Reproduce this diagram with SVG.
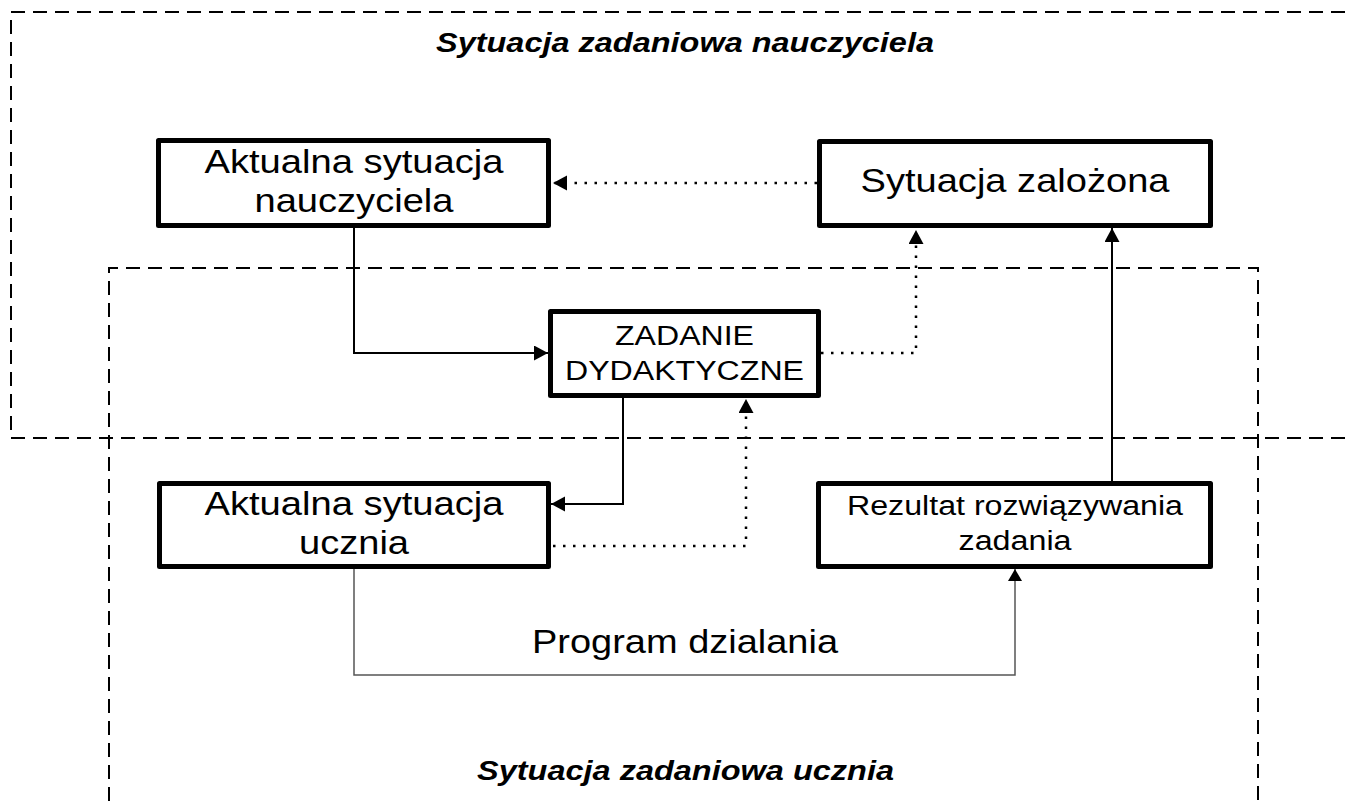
<svg xmlns="http://www.w3.org/2000/svg" width="1345" height="801" viewBox="0 0 1345 801">
<style>
.bg{fill:#ffffff}
.frame{fill:none;stroke:#000;stroke-width:2;stroke-dasharray:14 8}
.box{fill:#fff;stroke:#000;stroke-width:5;stroke-linejoin:round}
.solid{fill:none;stroke:#000;stroke-width:2}
.dot{fill:none;stroke:#000;stroke-width:2.5;stroke-dasharray:2.5 7.5}
.thin{fill:none;stroke:#555;stroke-width:1.5}
.t{font-family:"Liberation Sans",Arial,sans-serif;fill:#000;text-anchor:middle}
.big{font-size:33px}
.mid{font-size:27px}
.title{font-family:"Liberation Sans",Arial,sans-serif;font-size:28px;font-weight:bold;font-style:italic;fill:#000}
</style>
<defs>
<marker id="arr" markerUnits="userSpaceOnUse" markerWidth="16" markerHeight="16" refX="14" refY="7.5" orient="auto">
<path d="M0,0 L14,7.5 L0,15 z" fill="#000"/>
</marker>
<marker id="arrs" markerUnits="userSpaceOnUse" markerWidth="14" markerHeight="14" refX="12" refY="7" orient="auto">
<path d="M0,0 L12,7 L0,14 z" fill="#000"/>
</marker>
</defs>
<rect class="bg" x="0" y="0" width="1345" height="801"/>
<g id="frames">
<path class="frame" d="M1345,12 H11 V438 H1345"/>
<path class="frame" d="M109,801 V268 H1258 V801"/>
<text class="title" x="436" y="52" textLength="498" lengthAdjust="spacingAndGlyphs">Sytuacja zadaniowa nauczyciela</text>
<text class="title" x="477" y="780" textLength="417" lengthAdjust="spacingAndGlyphs">Sytuacja zadaniowa ucznia</text>
</g>
<g id="connectors">
<path class="dot" d="M817,183 H553" marker-end="url(#arr)"/>
<path class="solid" d="M354,228 V353 H548" marker-end="url(#arr)"/>
<path class="dot" d="M821,353 H916 V230" marker-end="url(#arr)"/>
<path class="solid" d="M1112,481 V228" marker-end="url(#arr)"/>
<path class="solid" d="M623,398 V504 H551" marker-end="url(#arr)"/>
<path class="dot" d="M553,546 H746 V399" marker-end="url(#arr)"/>
<path class="thin" d="M354,569 V675 H1015 V569" marker-end="url(#arrs)"/>
<text class="t big" x="685" y="653" textLength="306" lengthAdjust="spacingAndGlyphs">Program dzialania</text>
</g>
<g id="node-aktualna-nauczyciela">
<rect class="box" x="158.5" y="140.5" width="390" height="85"/>
<text class="t big" x="354" y="173" textLength="299" lengthAdjust="spacingAndGlyphs">Aktualna sytuacja</text>
<text class="t big" x="354" y="212" textLength="199" lengthAdjust="spacingAndGlyphs">nauczyciela</text>
</g>
<g id="node-sytuacja-zalozona">
<rect class="box" x="819.5" y="141.5" width="391" height="84"/>
<text class="t big" x="1015" y="192" textLength="309" lengthAdjust="spacingAndGlyphs">Sytuacja zalożona</text>
</g>
<g id="node-zadanie">
<rect class="box" x="550.5" y="311.5" width="268" height="84"/>
<text class="t mid" x="684.5" y="345" textLength="139" lengthAdjust="spacingAndGlyphs">ZADANIE</text>
<text class="t mid" x="684.5" y="380" textLength="239" lengthAdjust="spacingAndGlyphs">DYDAKTYCZNE</text>
</g>
<g id="node-aktualna-ucznia">
<rect class="box" x="159.5" y="483.5" width="389" height="83"/>
<text class="t big" x="354" y="515" textLength="299" lengthAdjust="spacingAndGlyphs">Aktualna sytuacja</text>
<text class="t big" x="354" y="554" textLength="110" lengthAdjust="spacingAndGlyphs">ucznia</text>
</g>
<g id="node-rezultat">
<rect class="box" x="818.5" y="483.5" width="392" height="83"/>
<text class="t mid" x="1015" y="515" textLength="336" lengthAdjust="spacingAndGlyphs">Rezultat rozwiązywania</text>
<text class="t mid" x="1015" y="550" textLength="113" lengthAdjust="spacingAndGlyphs">zadania</text>
</g>
</svg>
